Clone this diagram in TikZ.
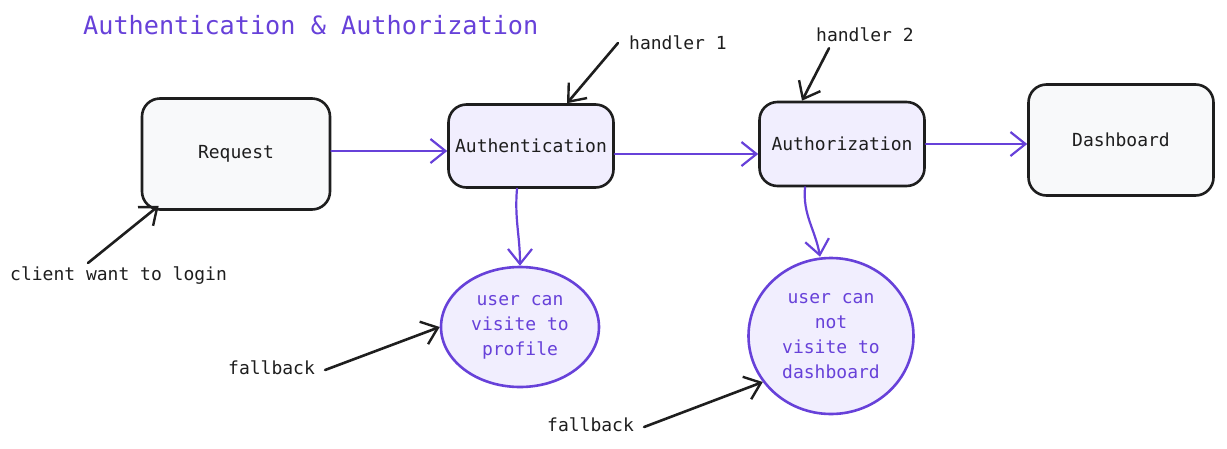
\documentclass[tikz,border=0pt]{standalone}
\usepackage{fontspec}
\setmonofont{DejaVu Sans Mono}
\usetikzlibrary{arrows.meta,shapes.geometric}
\definecolor{vio}{HTML}{6741D9}
\definecolor{grayfill}{HTML}{F8F9FA}
\definecolor{lavfill}{HTML}{F1EEFE}
\definecolor{ink}{HTML}{1E1E1E}
\begin{document}
\begin{tikzpicture}[x=1pt,y=-1pt,
  lbl/.style={font=\ttfamily\fontsize{18}{25}\selectfont, inner sep=0pt, text=ink},
  box/.style={lbl, draw=ink, line width=2.6pt, rounded corners=18pt, rectangle},
  graybox/.style={box, fill=grayfill},
  lavbox/.style={box, fill=lavfill},
  bubble/.style={lbl, ellipse, draw=vio, fill=lavfill, line width=2.6pt, text=vio, align=center},
  flow/.style={draw=vio, line width=2.2pt, line cap=round, -{Straight Barb[length=15pt,width=24pt,line width=2.2pt]}},
  note/.style={draw=ink, line width=2.6pt, line cap=round, -{Straight Barb[length=15pt,width=24pt,line width=2.4pt]}}
]
\useasboundingbox (0,0) rectangle (1227,448);

\node[font=\ttfamily\fontsize{25.2}{30}\selectfont, text=vio, anchor=west, inner sep=0pt] (title) at (83,25) {Authentication \& Authorization};

\node[graybox, minimum width=188pt, minimum height=111pt] (req) at (236,154) {Request};
\node[lavbox, minimum width=165pt, minimum height=83pt] (auth) at (531,146) {Authentication};
\node[lavbox, minimum width=165pt, minimum height=84pt] (authz) at (842,144) {Authorization};
\node[graybox, minimum width=185pt, minimum height=111pt] (dash) at (1121,140) {Dashboard};

\node[bubble, minimum width=158pt, minimum height=120pt] (c1) at (520,327) {user can\\visite to\\profile};
\node[bubble, minimum width=165pt, minimum height=156pt] (c2) at (831,336) {user can\\not\\visite to\\dashboard};

\node[lbl, anchor=west] (h1) at (629,43) {handler 1};
\node[lbl, anchor=west] (h2) at (816,35) {handler 2};
\node[lbl, anchor=west] (cl) at (10,276) {client want to login};
\node[lbl, anchor=west] (fb1) at (228,368) {fallback};
\node[lbl, anchor=west] (fb2) at (547,425) {fallback};

\draw[flow] ([yshift=3pt]req.east) -- ([yshift=3pt]req.east -| auth.west);
\draw[flow] ([yshift=-8pt]auth.east) -- ([yshift=-8pt]auth.east -| authz.west);
\draw[flow] (authz.east) -- (authz.east -| dash.west);
\draw[flow] ([xshift=-14pt]auth.south) to[out=-95,in=90] (c1.north);
\draw[flow] ([xshift=-37pt]authz.south) to[out=-95,in=100] ([xshift=-11pt]c2.north);

\draw[note] ([xshift=-11pt]h1.west) -- ([xshift=36pt]auth.north);
\draw[note] ([xshift=13pt,yshift=-6pt]h2.south west) -- ([xshift=-40pt]authz.north);
\draw[note] ([xshift=78pt,yshift=4pt]cl.north west) -- ([xshift=18pt,yshift=5pt]req.south west);
\draw[note] ([xshift=10pt,yshift=-2pt]fb1.east) -- (c1.west);
\draw[note] ([xshift=10pt,yshift=-2pt]fb2.east) -- (c2.-146);
\end{tikzpicture}
\end{document}
